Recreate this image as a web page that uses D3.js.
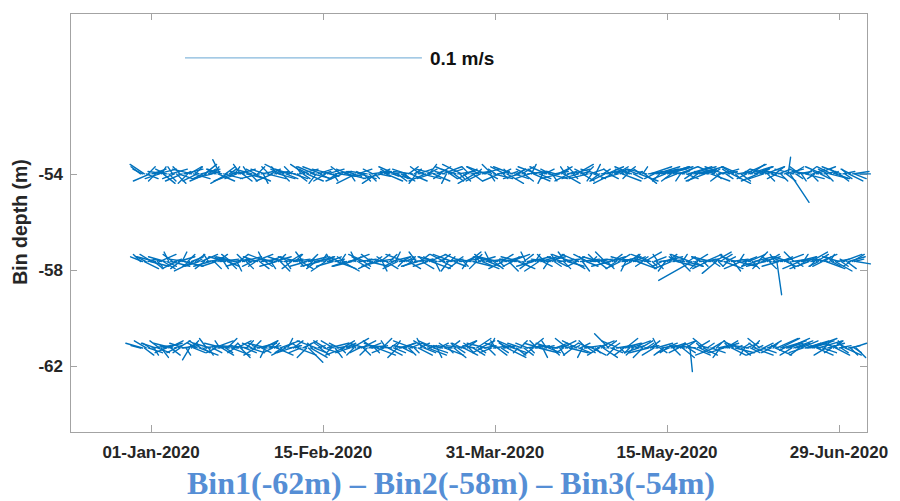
<!DOCTYPE html>
<meta charset="utf-8">
<style>
body{ margin:0; background:#fff; }
.tick-label{ font-family:"Liberation Sans", Arial, sans-serif; font-weight:bold; fill:#262626; }
.sticks line{ stroke:#0072BD; stroke-width:1.4; stroke-linecap:round; }
</style>
<body>
<script src="https://d3js.org/d3.v7.min.js"></script>
<script>

var width = 900,
    height = 501;

var margin = {top: 13, right: 33, bottom: 69, left: 70};

// axes
var xDomain = ["2019-12-10T19:00:00Z", "2020-07-06T08:00:00Z"];
var yDomain = [-64.75, -47.3];
var xTicks = ["2020-01-01", "2020-02-15", "2020-03-31", "2020-05-15", "2020-06-29"];
var xTickLabels = ["01-Jan-2020", "15-Feb-2020", "31-Mar-2020", "15-May-2020", "29-Jun-2020"];
var yTicks = [-62, -58, -54];

// record: first and last sample time (about 12 h apart)
var sampleStart = "2019-12-29T06:00:00Z",
    sampleEnd = "2020-07-03T12:00:00Z";

// bins (depth of stick origin, m)
var binDepths = [-61.25, -57.65, -54.0];

// scale stick: 0.1 m/s
var scaleSpeed = 0.1;
var scaleStart = "2020-01-09T21:00:00Z",
    scaleDepth = -49.17,
    scaleDays = 62;

// velocity components in mm/s, one per sample
var bin1U = [
-4,-7,4,-5,6,-3,8,2,-6,5,-4,3,8,-2,-5,6,4,-8,3,-4,
5,-3,7,-6,2,4,-3,3,5,-2,-4,8,-5,3,6,-3,2,-7,4,8,
-4,6,-2,5,-8,3,4,-5,8,2,-3,6,-7,4,-2,5,3,-8,6,-4,
3,-5,8,-3,4,6,-2,-8,5,3,-4,2,7,-5,8,-3,4,-6,2,5,
-6,4,2,8,-3,-5,6,3,-4,6,7,-2,5,-8,3,4,-3,6,-5,2,
8,-2,-5,3,6,-4,2,5,-8,4,3,-6,7,-3,-2,5,-4,6,3,-7,
-3,5,6,-4,2,8,-6,3,4,-5,-2,6,3,-8,5,2,-4,7,-3,4,
4,-6,3,5,-8,2,-3,6,4,-2,5,-5,8,3,-4,6,-7,2,4,-3,
-5,8,-3,2,4,-6,5,-2,3,7,-4,6,-8,4,2,-3,5,-5,6,3,
6,-4,5,-8,3,2,-5,7,-2,4,-6,3,5,-3,8,-4,2,6,-7,4,
-2,3,-6,4,8,-5,2,5,-4,6,-3,8,-7,2,4,-2,5,-6,3,6,
5,-8,2,6,-3,4,-5,8,3,-4,2,-6,5,4,-2,7,-3,3,-5,6,
-4,2,7,-5,3,6,-2,4,-6,5,3,-3,6,-7,2,8,-4,5,3,-2,
8,-3,4,2,-6,5,-4,6,3,-8,4,2,-5,7,-2,3,6,-4,5,-3,
-5,6,3,-2,8,-4,2,5,-6,4,3,1,-3,7,-8,5,4,-2,6,-5,
3,-4,6,5,-8,2,4,-3,7,-6,5,3,-2,6,-4,8,2,-5,4,3,
-2,5,-6,4,3,8,-3,2,-5,6,4,-8,3,5,-4,2,7,9,-3,8,
10,-2,7,9,4,-5,8,6,3,-4,7,-6,10,8,5,11,9,-3,7,10,
-4,6,3,-5,7,2,-3,4,6,-6,5,3,-2,7,-4,5,3,6,3,4
];
var bin1V = [
1,2,-3,3,-2,2,1,-3,2,-2,3,-4,2,1,-2,3,-3,2,1,-2,
3,-2,1,2,-3,2,-5,3,-2,1,2,-3,3,-2,1,4,-3,2,-2,3,
-2,1,3,-3,2,-2,4,1,-3,2,-2,3,1,-4,2,-2,3,1,-2,2,
3,-3,2,1,-2,3,-4,2,1,3,-2,2,-3,1,3,-2,2,-3,4,1,
-2,3,1,-3,2,-2,3,2,-4,-6,-4,2,-2,3,1,-3,2,-2,3,1,
2,-2,3,-4,1,2,-2,3,-3,2,1,-2,4,-3,2,1,-2,3,-3,2,
-3,2,1,3,-2,-3,2,1,4,-2,3,-3,2,1,-2,3,-4,2,1,-2,
2,1,-3,2,3,-2,1,-3,2,4,-2,3,-3,1,2,-2,3,-4,2,1,
1,-3,2,-2,3,1,-4,2,-2,3,2,-3,1,3,-2,2,-3,1,4,-2,
3,-2,1,2,-3,4,-2,1,3,-3,2,-2,1,3,-4,2,1,-2,3,-3,
-2,3,2,-3,1,2,-2,4,-3,1,3,-2,2,-4,1,3,-2,2,-3,1,
2,1,-3,3,-2,1,4,-2,2,-3,1,3,-2,2,-4,1,3,-2,2,-3,
1,-2,3,-3,2,-4,1,3,6,-2,2,-3,1,3,-2,2,-3,4,1,-2,
3,-3,1,2,-2,3,-4,1,2,-2,3,1,-3,2,4,-2,1,-3,2,-2,
-2,2,-3,1,3,-2,2,-4,1,3,-2,-10,2,-3,1,3,-2,2,-3,4,
2,1,-2,3,-3,2,1,-4,2,-2,3,1,2,-3,3,-2,1,2,-3,2,
-3,2,1,-2,3,-3,2,1,4,-2,2,-3,1,3,-2,2,-3,4,1,4,
3,-1,2,4,2,-3,3,2,1,-3,3,-2,3,2,2,4,3,1,-3,3,
1,-2,3,-3,2,1,-2,3,-3,2,1,-2,3,-3,2,1,-3,2,-2,-4
];

var bin2U = [
-3,-5,6,-4,3,8,-5,4,-8,2,7,-3,5,-7,4,-2,8,-4,3,-6,
7,-4,2,8,-7,3,-3,5,-8,4,2,-6,7,3,-4,8,-2,-7,5,3,
-6,4,8,-3,2,-7,5,3,-4,7,-8,2,4,-6,8,-3,3,7,-2,-4,
8,-3,-6,4,7,-2,3,-8,5,2,-4,7,-7,3,4,-6,8,2,-3,5,
-4,7,3,-8,2,5,-3,4,-7,8,3,-2,5,-4,7,-8,2,4,-6,3,
5,-2,-7,4,8,-4,2,7,-3,-6,4,8,-8,3,-2,5,7,-4,3,-7,
2,8,-4,-6,3,7,-7,4,2,-3,5,-8,3,8,-4,2,-6,7,4,-2,
-8,3,5,2,-4,8,-3,-7,4,5,-2,3,-6,7,8,-4,2,-8,3,4,
4,-6,7,-3,2,-8,5,3,-4,8,-7,2,4,-2,5,-6,8,3,-3,7,
-3,7,-4,8,5,-2,-7,4,3,-8,2,5,-6,7,-3,4,8,-4,2,-7,
7,-8,3,4,-2,5,-4,8,-7,2,3,-6,7,4,-3,8,-2,-8,5,3,
-2,4,8,-6,3,-3,7,2,-8,5,4,-4,-7,8,3,-2,5,-6,7,2,
8,-3,4,-7,5,2,-4,3,7,-8,4,2,-3,5,-6,8,3,-2,-7,4,
-4,5,2,8,-7,3,-3,7,4,-6,-8,2,5,3,-2,7,-4,8,-3,4,
3,-7,5,-2,8,-4,4,2,-6,7,3,-8,-14,4,5,-3,8,-4,2,7,
-6,4,-8,3,7,-6,2,5,-3,8,4,-2,-4,7,3,-6,8,2,-7,4,
5,-2,7,-4,3,8,-6,4,-3,2,7,-8,5,3,-4,8,-2,2,-7,5,
-3,8,4,-6,2,7,-4,3,8,-7,5,2,-3,4,-8,7,3,-2,5,-4,
7,-4,3,8,-6,2,4,-3,7,5,-7,3,8,-2,4,7,-3,5,4,6
];
var bin2V = [
3,2,-3,2,1,-2,3,-3,2,-2,3,1,-3,2,-2,4,-2,3,1,-3,
2,-3,4,-2,1,3,-2,2,-4,3,1,-2,3,2,-3,1,3,-2,2,-3,
-2,3,1,2,-3,2,-2,-3,3,1,2,-4,3,-2,2,3,-3,1,2,-2,
3,-2,2,-3,1,4,-2,3,2,-3,1,2,-2,3,-4,2,1,-3,2,3,
-3,1,3,2,-2,-3,4,1,-2,2,3,-2,1,-3,2,-2,3,2,-4,1,
2,3,-2,1,-3,2,3,-4,2,-2,1,3,-2,2,4,-3,1,2,-2,3,
1,-2,3,-3,2,1,-2,3,-4,2,-3,1,3,2,-2,4,-3,1,2,-2,
3,2,-3,2,-2,1,4,-2,3,-3,2,1,-2,3,-3,2,-4,2,1,3,
-2,3,1,-4,2,3,-2,2,-3,1,3,-2,2,-3,4,1,-2,3,-3,2,
2,-3,3,1,-2,4,2,-3,1,2,-2,3,-3,2,1,-4,3,-2,2,1,
-3,2,-2,3,4,1,-3,2,-2,3,1,-4,2,-2,3,2,-3,1,3,-2,
3,-2,1,2,-3,4,-2,1,3,-3,2,-2,3,1,-4,2,-2,3,1,2,
1,3,-3,2,-2,1,4,-3,2,-2,3,1,-2,3,-3,2,1,-4,2,3,
-2,2,3,-3,1,2,-2,4,-3,1,3,-2,2,-3,3,1,-2,2,-4,3,
2,-3,1,3,-2,2,-4,3,1,-2,2,3,-8,-2,3,-3,1,2,-2,3,
-3,1,2,-2,4,-5,-2,3,1,-3,2,-2,3,1,-4,2,-2,3,-3,1,
2,-2,3,1,-3,2,-2,4,-3,1,2,-2,3,-3,2,1,3,-14,-2,2,
1,3,-2,2,-3,1,4,-2,2,-3,1,3,-2,2,-3,4,1,-2,3,-2,
3,-2,2,-3,1,3,-2,2,-4,1,2,-2,3,1,-3,2,-2,3,1,-1
];

var bin3U = [
-4,-4,-6,5,3,-7,6,4,-3,8,-6,2,5,-4,-8,3,7,-2,-5,4,
6,-3,-7,8,2,-4,5,-8,7,3,-6,-2,8,-4,5,-7,3,4,-8,2,
-4,7,-3,-6,8,4,-7,3,6,-8,2,-5,7,-3,4,-6,8,-2,3,-7,
7,-4,3,-8,5,2,-6,8,-3,4,-7,6,-2,7,-4,3,-8,5,2,-6,
-3,6,-7,4,8,-2,3,-6,7,-4,2,8,-7,-3,6,4,-8,3,-5,7,
4,-8,2,6,-3,7,-4,-7,3,8,-5,2,4,-3,-8,6,7,-2,3,-4,
-7,3,8,-4,2,-6,5,4,-8,3,7,-3,-4,8,2,-7,4,-6,3,5,
2,-6,4,7,-8,3,-3,6,-4,8,-2,-7,4,3,-6,7,-8,2,5,-3,
8,-4,-2,6,3,-7,4,-6,7,2,-8,3,5,-4,-3,8,4,-7,2,-5,
-6,7,3,-8,4,2,-4,8,-3,5,-7,4,2,-6,7,-2,3,-8,6,4,
3,-7,5,4,-4,8,-6,2,7,-3,-8,5,3,-2,4,-7,8,-4,2,6,
-4,6,-8,3,7,-2,4,-6,8,2,-3,7,-7,4,5,-4,3,-8,6,-2,
5,2,-7,-4,8,3,-6,7,4,-3,-8,2,5,-7,3,8,-4,4,-2,-6,
-7,4,3,-5,8,-3,2,5,-8,6,9,11,-4,10,12,-3,7,11,-5,9,
10,-4,3,6,-5,8,-2,4,-7,5,10,11,-3,9,7,-4,10,6,5,-8,
4,-6,8,3,-7,2,5,-4,7,-8,3,4,-3,8,-5,2,6,-7,4,3,
9,-4,10,6,-3,8,5,-7,4,2,-6,8,3,-8,6,-2,4,-4,5,3,
-7,8,4,1,8,5,-8,3,6,-4,2,-6,8,4,-7,3,5,-3,8,-2,
4,-7,5,3,-4,8,-6,2,6,-3,4,-8,5,3,-2,6,-4,7,5,6
];
var bin3V = [
3,2,4,-2,3,-3,2,1,-3,2,-2,3,-4,2,1,-3,2,3,-2,-4,
-2,3,-3,2,1,-4,3,2,-2,3,-3,1,2,-2,4,-3,2,1,-2,3,
2,-3,6,2,-2,3,-4,2,1,-3,3,-2,2,4,-3,1,-2,3,-3,2,
-3,2,3,-2,1,-4,2,-2,3,2,-3,1,3,-2,2,-3,4,-2,1,2,
3,-2,1,-3,2,3,-2,4,-3,2,1,-2,3,-4,2,-2,3,1,-3,2,
-1,2,-3,1,-2,-1,3,-3,1,-2,2,-3,-1,1,-4,2,-2,1,-3,-1,
1,-3,1,2,-2,-4,-1,2,-2,1,-3,2,1,-2,-1,3,-3,1,-2,-3,
-2,2,3,-3,1,2,-4,2,3,-2,1,-3,2,4,-2,-3,2,1,3,-2,
3,1,-4,2,-2,3,-3,2,1,-2,4,-3,2,-2,3,1,-3,-4,2,3,
-3,2,1,3,-2,-3,4,-2,2,1,-3,2,-2,3,-4,2,1,3,-2,2,
2,-2,3,-3,2,1,-2,4,-3,2,3,-2,1,-4,2,3,-2,2,-3,1,
1,3,-2,2,-4,3,1,-3,2,-2,3,4,-2,1,-3,2,3,-2,2,-3,
-2,4,2,-3,1,2,-3,3,-2,2,-4,1,3,-2,2,-3,1,3,-2,2,
3,-2,1,2,-3,2,3,-4,2,1,3,2,-2,3,2,-3,2,3,-2,3,
3,-3,2,1,-2,3,-3,2,1,-2,3,3,-2,2,1,-3,3,1,2,-3,
2,1,-3,2,3,-2,1,-3,2,3,-2,1,2,-4,3,-2,1,3,-3,2,
4,-2,3,4,1,3,2,-3,2,1,-2,3,-3,2,-2,1,3,-2,2,-3,
1,2,-3,7,-12,3,2,-2,1,3,-3,2,-2,3,1,-3,2,-2,3,1,
-2,3,1,-3,2,-2,3,1,-2,2,-3,3,1,-2,2,-3,2,1,-2,0
];

var binU = [bin1U, bin2U, bin3U],
    binV = [bin1V, bin2V, bin3V];

var svg = d3.select("body")
    .append("svg")
    .attr("width", width)
    .attr("height", height);

var x = d3.scaleUtc()
    .domain(xDomain.map(function(d) { return new Date(d); }))
    .range([margin.left, width - margin.right]);

var y = d3.scaleLinear()
    .domain(yDomain)
    .range([height - margin.bottom, margin.top]);

// pixels per m/s, same in x and y so the sticks keep their direction
var t0 = new Date(scaleStart);
var t1 = new Date(t0.getTime() + scaleDays * 864e5);
var pxPerMs = (x(t1) - x(t0)) / scaleSpeed;

// frame
var x0 = margin.left, x1 = width - margin.right,
    y0 = margin.top, y1 = height - margin.bottom;

svg.append("rect")
    .attr("x", x0 + 0.5).attr("y", y0 + 0.5)
    .attr("width", x1 - x0).attr("height", y1 - y0)
    .attr("fill", "none")
    .attr("stroke", "#a3a3a3")
    .attr("stroke-width", 1);

var tickLen = 7;
var ticks = svg.append("g").attr("stroke", "#a3a3a3").attr("stroke-width", 1);

xTicks.forEach(function(d) {
  var px = Math.round(x(new Date(d + "T00:00:00Z"))) + 0.5;
  ticks.append("line").attr("x1", px).attr("x2", px).attr("y1", y1).attr("y2", y1 - tickLen);
  ticks.append("line").attr("x1", px).attr("x2", px).attr("y1", y0).attr("y2", y0 + tickLen);
});
yTicks.forEach(function(d) {
  var py = Math.round(y(d)) + 0.5;
  ticks.append("line").attr("x1", x0).attr("x2", x0 + tickLen).attr("y1", py).attr("y2", py);
  ticks.append("line").attr("x1", x1).attr("x2", x1 - tickLen).attr("y1", py).attr("y2", py);
});

svg.append("g").selectAll("text")
    .data(xTicks)
    .enter().append("text")
      .attr("class", "tick-label")
      .attr("x", function(d) { return x(new Date(d + "T00:00:00Z")); })
      .attr("y", 458)
      .attr("text-anchor", "middle")
      .style("font-size", "17px")
      .text(function(d, i) { return xTickLabels[i]; });

svg.append("g").selectAll("text")
    .data(yTicks)
    .enter().append("text")
      .attr("class", "tick-label")
      .attr("x", 63)
      .attr("y", function(d) { return y(d); })
      .attr("dy", "0.35em")
      .attr("text-anchor", "end")
      .style("font-size", "17px")
      .text(function(d) { return d; });

svg.append("text")
    .attr("class", "tick-label")
    .attr("transform", "translate(27,222) rotate(-90)")
    .attr("text-anchor", "middle")
    .style("font-size", "19.5px")
    .text("Bin depth (m)");

// sticks
var tStart = new Date(sampleStart).getTime(),
    tEnd = new Date(sampleEnd).getTime();

binDepths.forEach(function(depth, b) {
  var u = binU[b], v = binV[b];
  var n = u.length;
  var data = u.map(function(d, i) {
    return {t: new Date(tStart + (tEnd - tStart) * i / (n - 1)), u: d / 1000, v: v[i] / 1000};
  });
  svg.append("g")
      .attr("class", "sticks")
    .selectAll("line")
    .data(data)
    .enter().append("line")
      .attr("x1", function(d) { return x(d.t); })
      .attr("y1", y(depth))
      .attr("x2", function(d) { return x(d.t) + d.u * pxPerMs; })
      .attr("y2", function(d) { return y(depth) - d.v * pxPerMs; });
});

// scale stick
svg.append("line")
    .attr("x1", x(t0))
    .attr("y1", y(scaleDepth))
    .attr("x2", x(t0) + scaleSpeed * pxPerMs)
    .attr("y2", y(scaleDepth))
    .attr("stroke", "#86b8dc")
    .attr("stroke-width", 1.3);

svg.append("text")
    .attr("class", "tick-label")
    .attr("x", x(t0) + scaleSpeed * pxPerMs + 8)
    .attr("y", y(scaleDepth))
    .attr("dy", "0.35em")
    .style("font-size", "19px")
    .style("fill", "#111")
    .text(scaleSpeed + " m/s");

svg.append("text")
    .attr("x", 451)
    .attr("y", 494)
    .attr("text-anchor", "middle")
    .style("font-family", "'Liberation Serif', 'Times New Roman', serif")
    .style("font-weight", "bold")
    .style("font-size", "32px")
    .style("fill", "#558ED5")
    .text("Bin1(-62m) \u2013 Bin2(-58m) \u2013 Bin3(-54m)");

</script>
</body>
